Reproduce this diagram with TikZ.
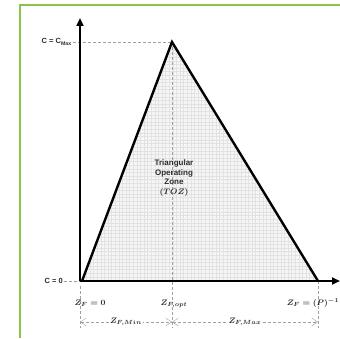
\documentclass[tikz,border=0pt]{standalone}
\usepackage{fontspec}
\setmainfont{Liberation Sans}
\usetikzlibrary{arrows.meta}
\definecolor{FrameGreen}{RGB}{140,195,75}
\definecolor{ZoneFill}{RGB}{246,246,246}
\definecolor{GridLine}{RGB}{226,226,226}
\definecolor{GuideGray}{RGB}{160,160,160}
\definecolor{LabelText}{RGB}{45,45,45}
\tikzset{
  every node/.style={font=\fontsize{7.5}{8}\selectfont\bfseries, text=LabelText},
  axis/.style={-{Triangle[length=8pt,width=7pt]}, line width=2.4pt, black},
  zone/.style={line width=2.4pt, black, line join=miter},
  guide/.style={densely dashed, line width=0.4pt, GuideGray},
  dim/.style={{Straight Barb[length=6pt,width=8pt]}-{Straight Barb[length=6pt,width=8pt]},
              line width=0.4pt, densely dashed, GuideGray},
  zlabel/.style={font=\fontsize{8.5}{9}\selectfont\bfseries\boldmath}
}
\begin{document}
\begin{tikzpicture}[x=1pt,y=1pt]
\useasboundingbox (0,0) rectangle (340,338);

% Green frame
\draw[FrameGreen, line width=1.5pt] (20,0) -- (20,333) -- (340,333);

% Key points
\coordinate (origin) at (80,57);
\coordinate (left) at (82,57);
\coordinate (apex) at (172,296);
\coordinate (right) at (318,57);
\coordinate (ytop) at (80,320);
\coordinate (xend) at (340,57);

% Operating zone with grid
\fill[ZoneFill] (left) -- (apex) -- (right) -- cycle;
\begin{scope}
  \clip (left) -- (apex) -- (right) -- cycle;
  \draw[GridLine, line width=0.3pt, step=3.6] (80,57) grid (320,300);
\end{scope}

% Guides
\node[anchor=east, inner sep=1pt] (cmax) at (73,296) {C = C$_{\mathbf{Max}}$};
\node[anchor=east, inner sep=1pt] (czero) at (64,57) {C = 0};
\draw[guide] (cmax.east) -- (apex);
\draw[guide] (czero.east) -- (origin);
\draw[guide] (apex) -- (172,10);
\draw[guide] (80,52) -- (80,10);
\draw[guide] (right) -- (318,10);

% Axes
\draw[axis] (origin) -- (ytop);
\draw[axis] (origin) -- (xend);
\draw[zone] (left) -- (apex) -- (right);

% Zone label
\node[align=center, font=\fontsize{8}{9.5}\selectfont\bfseries\boldmath] (toz) at (174,160)
  {Triangular\\Operating\\Zone\\$(TOZ)$};

% Bottom labels
\node[zlabel] (zzero) at (90,35) {$Z_F = 0$};
\node[zlabel] (zopt) at (174,34) {$Z_{F,opt}$};
\node[zlabel] (zmax) at (313,35) {$Z_F = (P)^{-1}$};

% Dimension lines
\coordinate (d0) at (80,16);
\coordinate (d1) at (172,16);
\coordinate (d2) at (318,16);
\draw[dim] (d0) -- node[zlabel, fill=white, inner sep=1pt] {$Z_{F,Min}$} (d1);
\draw[dim] (d1) -- node[zlabel, fill=white, inner sep=1pt] {$Z_{F,Max}$} (d2);

\end{tikzpicture}
\end{document}
